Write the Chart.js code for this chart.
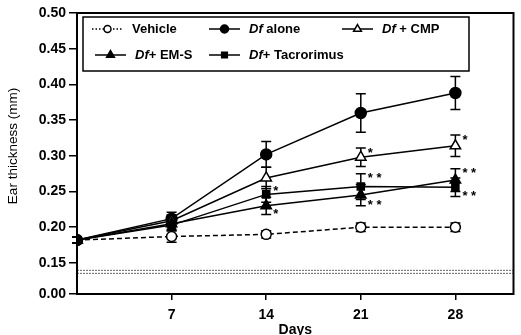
<!DOCTYPE html>
<html>
<head>
<meta charset="utf-8">
<script src="https://cdn.jsdelivr.net/npm/chart.js@4.4.0/dist/chart.umd.min.js"></script>
<style>html,body{margin:0;padding:0;background:#fff}</style>
</head>
<body>
<canvas id="earChart" width="521" height="335"></canvas>
<script>
// days of measurement
var days = [0, 7, 14, 21, 28];

// ear thickness (mm), mean and error
var vehicle = [0.182, 0.187, 0.190, 0.200, 0.200];
var vehicleErr = [0.004, 0.008, 0.005, 0.006, 0.006];
var dfAlone = [0.182, 0.212, 0.302, 0.360, 0.388];
var dfAloneErr = [0.004, 0.009, 0.018, 0.027, 0.023];
var dfCmp = [0.182, 0.209, 0.269, 0.298, 0.314];
var dfCmpErr = [0.004, 0.008, 0.015, 0.013, 0.015];
var dfEms = [0.182, 0.205, 0.230, 0.245, 0.266];
var dfEmsErr = [0.004, 0.008, 0.012, 0.015, 0.016];
var dfTac = [0.182, 0.203, 0.246, 0.257, 0.256];
var dfTacErr = [0.004, 0.008, 0.011, 0.018, 0.013];

// significance marks (side: 1 above the bar, -1 below)
var starsCmp = ['', '', '', '*', '*'];
var starsCmpSide = [1, 1, 1, 1, 1];
var starsEms = ['', '', '*', '**', '**'];
var starsEmsSide = [0, 0, -1, -1, 1];
var starsTac = ['', '', '*', '**', '**'];
var starsTacSide = [0, 0, 1, 1, -1];

// axes
var xTicks = [7, 14, 21, 28];
var yTicks = [0.15, 0.20, 0.25, 0.30, 0.35, 0.40, 0.45, 0.50];
var yBottom = 0.1065;   // where "0.00" sits after the axis break
var yBreak = 0.1375;

var FONT = '"Liberation Sans", Arial, sans-serif';

function pts(arr) {
    return arr.map(function (v, i) { return { x: days[i], y: v }; });
}

var series = [
    { label: 'Vehicle', data: vehicle, err: vehicleErr, stars: null, side: null, style: 'circle', fill: '#fff', r: 5, lr: 3.5, dash: [5, 3] },
    { label: 'Df alone', data: dfAlone, err: dfAloneErr, stars: null, side: null, style: 'circle', fill: '#000', r: 5.5, lr: 4, dash: [] },
    { label: 'Df + CMP', data: dfCmp, err: dfCmpErr, stars: starsCmp, side: starsCmpSide, style: 'triangle', fill: '#fff', r: 6, lr: 4.5, dash: [] },
    { label: 'Df+ EM-S', data: dfEms, err: dfEmsErr, stars: starsEms, side: starsEmsSide, style: 'triangle', fill: '#000', r: 6, lr: 4.5, dash: [] },
    { label: 'Df+ Tacrorimus', data: dfTac, err: dfTacErr, stars: starsTac, side: starsTacSide, style: 'rect', fill: '#000', r: 5, lr: 4, dash: [] }
];

var errorBars = {
    id: 'errorBars',
    beforeDatasetsDraw: function (chart) {
        var ctx = chart.ctx, xs = chart.scales.x, ys = chart.scales.y;
        ctx.save();
        ctx.strokeStyle = '#000';
        ctx.lineWidth = 1.5;
        series.forEach(function (s) {
            s.data.forEach(function (v, i) {
                var x = xs.getPixelForValue(days[i]);
                var top = ys.getPixelForValue(v + s.err[i]);
                var bot = ys.getPixelForValue(v - s.err[i]);
                ctx.beginPath();
                ctx.moveTo(x, top); ctx.lineTo(x, bot);
                ctx.moveTo(x - 5, top); ctx.lineTo(x + 5, top);
                ctx.moveTo(x - 5, bot); ctx.lineTo(x + 5, bot);
                ctx.stroke();
            });
        });
        ctx.restore();
    },
    afterDatasetsDraw: function (chart) {
        var ctx = chart.ctx, xs = chart.scales.x, ys = chart.scales.y;
        var a = chart.chartArea;
        ctx.save();
        // axis break line
        var yb = ys.getPixelForValue(yBreak);
        ctx.strokeStyle = '#666';
        ctx.lineWidth = 1;
        ctx.setLineDash([2, 1]);
        ctx.beginPath();
        ctx.moveTo(a.left, yb - 1.5); ctx.lineTo(a.right, yb - 1.5);
        ctx.moveTo(a.left, yb + 1.5); ctx.lineTo(a.right, yb + 1.5);
        ctx.stroke();
        ctx.setLineDash([]);
        // frame
        ctx.strokeStyle = '#000';
        ctx.lineWidth = 2;
        ctx.strokeRect(a.left, a.top, a.right - a.left, a.bottom - a.top);
        // stars
        ctx.fillStyle = '#000';
        ctx.font = 'bold 13px ' + FONT;
        ctx.textAlign = 'left';
        ctx.textBaseline = 'middle';
        series.forEach(function (s) {
            if (!s.stars) return;
            s.stars.forEach(function (t, i) {
                if (!t) return;
                var x = xs.getPixelForValue(days[i]) + 7;
                var y = s.side[i] > 0 ? ys.getPixelForValue(s.data[i] + s.err[i]) + 5
                                      : ys.getPixelForValue(s.data[i] - s.err[i]);
                ctx.fillText(t.split('').join(' '), x, y);
            });
        });
        // legend
        var lx = a.left + 6, ly = a.top + 4, lw = 386, lh = 54;
        ctx.lineWidth = 1.5;
        ctx.strokeRect(lx, ly, lw, lh);
        var spots = [[92, 29], [209, 29], [342, 29], [95, 55], [209, 55]];
        series.forEach(function (s, k) {
            var px = spots[k][0], py = spots[k][1];
            ctx.lineWidth = 1.5;
            ctx.strokeStyle = '#000';
            ctx.setLineDash(k === 0 ? [1.5, 2] : []);
            ctx.beginPath();
            ctx.moveTo(px, py); ctx.lineTo(px + 31, py);
            ctx.stroke();
            ctx.setLineDash([]);
            ctx.fillStyle = s.fill;
            Chart.helpers.drawPoint(ctx, { pointStyle: s.style, radius: s.lr, borderWidth: 1.5 }, px + 15.5, py);
            ctx.fillStyle = '#000';
            var tx = px + 40;
            if (k === 0) {
                ctx.font = 'bold 13px ' + FONT;
                ctx.fillText(s.label, tx, py);
            } else {
                var rest = s.label.slice(2);
                ctx.font = 'italic bold 13px ' + FONT;
                ctx.fillText('Df', tx, py);
                var w = ctx.measureText('Df').width;
                ctx.font = 'bold 13px ' + FONT;
                ctx.fillText(rest, tx + w, py);
            }
        });
        ctx.restore();
    }
};

var ctx = document.getElementById('earChart').getContext('2d');
var earChart = new Chart(ctx, {
    type: 'line',
    data: {
        datasets: series.map(function (s, k) {
            return {
                label: s.label,
                data: pts(s.data),
                order: series.length - k,
                borderColor: '#000',
                borderWidth: 1.5,
                borderDash: s.dash,
                backgroundColor: s.fill,
                pointStyle: s.style,
                pointRadius: s.r,
                pointBackgroundColor: s.fill,
                pointBorderColor: '#000',
                pointBorderWidth: 1.5,
                tension: 0
            };
        })
    },
    options: {
        responsive: false,
        animation: false,
        layout: { padding: { top: 13, right: 3, left: 0, bottom: 0 } },
        plugins: { legend: { display: false }, tooltip: { enabled: false } },
        scales: {
            x: {
                type: 'linear',
                min: 0,
                max: 32.3,
                afterBuildTicks: function (s) { s.ticks = xTicks.map(function (v) { return { value: v }; }); },
                afterFit: function (s) { s.height = 41; },
                grid: { drawOnChartArea: false, drawTicks: true, tickLength: 6, color: '#000', lineWidth: 1.5 },
                border: { display: false },
                ticks: {
                    color: '#000', padding: 7,
                    font: { family: FONT, size: 14, weight: 'bold' }
                },
                title: {
                    display: true, text: 'Days', color: '#000', padding: { top: 0, bottom: -4 },
                    font: { family: FONT, size: 14, weight: 'bold' }
                }
            },
            y: {
                type: 'linear',
                min: yBottom,
                max: 0.5,
                afterBuildTicks: function (s) {
                    s.ticks = [{ value: yBottom }].concat(yTicks.map(function (v) { return { value: v }; }));
                },
                afterFit: function (s) { s.width = 77; },
                grid: { drawOnChartArea: false, drawTicks: true, tickLength: 8, color: '#000', lineWidth: 1.5 },
                border: { display: false },
                ticks: {
                    color: '#000', padding: 3,
                    font: { family: FONT, size: 14, weight: 'bold' },
                    callback: function (v) { return v === yBottom ? '0.00' : v.toFixed(2); }
                },
                title: {
                    display: true, text: '    Ear thickness (mm)', color: '#000', padding: { top: 5, bottom: 0 },
                    font: { family: FONT, size: 13.5 }
                }
            }
        }
    },
    plugins: [errorBars]
});
</script>
</body>
</html>
